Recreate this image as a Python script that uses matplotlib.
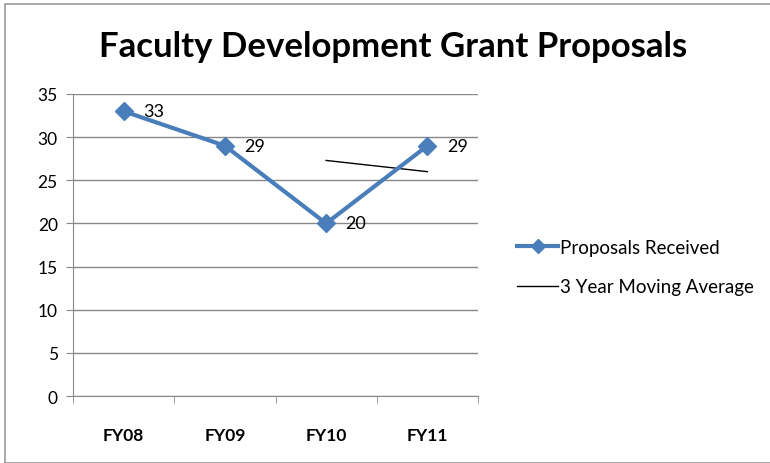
import numpy as np
import matplotlib.pyplot as plt
from matplotlib.patches import Rectangle

years = ["FY08", "FY09", "FY10", "FY11"]
proposals = [33, 29, 20, 29]
moving_avg = [np.nan, np.nan, 27.3, 26.0]

plt.rcParams['font.family'] = ['Lato', 'DejaVu Sans']

fig = plt.figure(figsize=(7.7, 4.64), dpi=100)
ax = fig.add_axes([73 / 770, 1 - 397 / 464, 405 / 770, 302 / 464])

x = np.arange(len(years))
blue = '#4a7ebb'
ax.plot(x, proposals, color=blue, lw=3, marker='D', ms=9, label='Proposals Received', zorder=3)
ax.plot(x, moving_avg, color='black', lw=1, label='3 Year Moving Average', zorder=2)

for xi, v in zip(x, proposals):
    ax.annotate(str(v), (xi, v), xytext=(14, 0), textcoords='offset points',
                va='center', ha='left', fontsize=13)

ax.set_xlim(-0.5, len(years) - 0.5)
ax.set_ylim(0, 35)
ax.set_yticks(range(0, 36, 5))
ax.set_xticks(x)
ax.set_xticklabels(years, fontsize=12.5, fontweight='bold')
ax.tick_params(axis='x', length=0, pad=22)
ax.set_xticks(np.arange(-0.5, len(years)), minor=True)
ax.tick_params(axis='x', which='minor', length=5, color='#888888')
ax.tick_params(axis='y', labelsize=12.5, length=5, color='#888888', pad=6)
ax.grid(axis='y', color='#888888', lw=1)
ax.set_axisbelow(True)
for s in ['top', 'right']:
    ax.spines[s].set_visible(False)
for s in ['left', 'bottom']:
    ax.spines[s].set_color('#888888')

fig.text(393 / 770, 1 - 47 / 464, 'Faculty Development Grant Proposals',
         ha='center', va='center', fontsize=25, fontweight='bold')

leg = fig.legend(loc='center left', bbox_to_anchor=(500 / 770, 1 - 268 / 464), frameon=False,
                 fontsize=13.5, handlelength=2.2, handletextpad=0.1, labelspacing=1.2)
leg.legend_handles[0].set_markersize(7)

fig.patches.append(Rectangle((5 / 770, 0), 1.2, 1 - 5 / 464, transform=fig.transFigure,
                             fill=False, edgecolor='#999999', lw=1.2))

fig.savefig('out.png', dpi=100)
